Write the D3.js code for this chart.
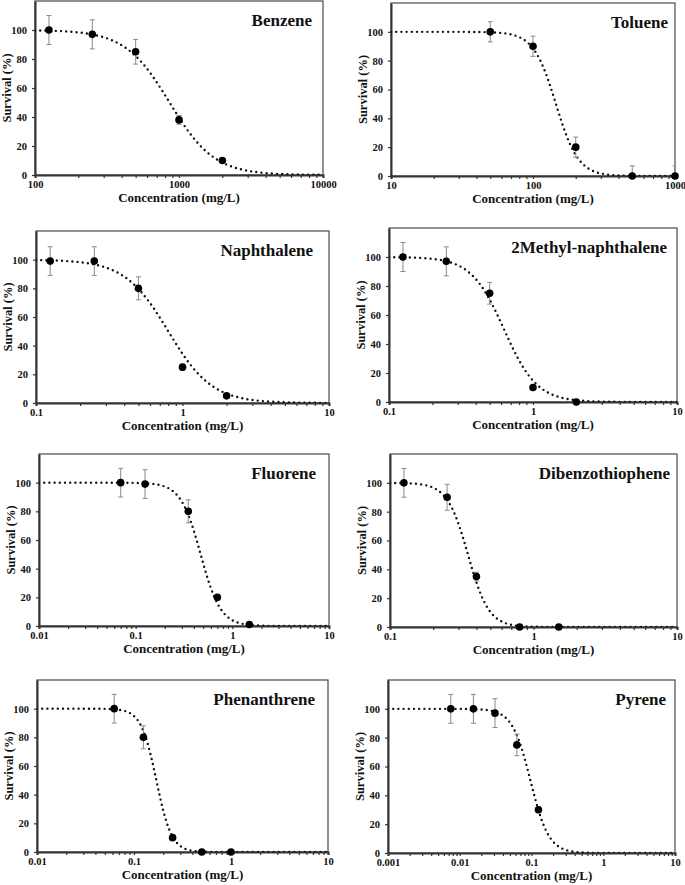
<!DOCTYPE html>
<html>
<head>
<meta charset="utf-8">
<script src="https://cdn.jsdelivr.net/npm/d3@7/dist/d3.min.js"></script>
<style>
  html, body { margin: 0; padding: 0; background: #fff; }
  svg { display: block; }
  text { font-family: "Liberation Serif", "Times New Roman", serif; font-weight: bold; fill: #111; }
</style>
</head>
<body>
<svg id="chart" width="685" height="885"></svg>
<script>
// ---------- data ----------
const compounds = ["Benzene", "Toluene", "Naphthalene", "2Methyl-naphthalene",
                   "Fluorene", "Dibenzothiophene", "Phenanthrene", "Pyrene"];
const xDomains = [[100, 10000], [10, 1000], [0.1, 10], [0.1, 10],
                  [0.01, 10], [0.1, 10], [0.01, 10], [0.001, 10]];
const concentrations = [
  [125, 250, 500, 1000, 2000],
  [50, 100, 200, 500, 1000],
  [0.125, 0.25, 0.5, 1, 2],
  [0.125, 0.25, 0.5, 1, 2],
  [0.07, 0.125, 0.35, 0.7, 1.5],
  [0.125, 0.25, 0.4, 0.8, 1.5],
  [0.0625, 0.125, 0.25, 0.5, 1],
  [0.0075, 0.0155, 0.031, 0.0625, 0.125]
];
const survival = [
  [100, 97, 85, 38, 10],
  [100, 90, 20, 0, 0],
  [99, 99, 80, 25, 5],
  [100, 97, 75, 10, 0],
  [100, 99, 80, 20, 1],
  [100, 90, 35, 0, 0],
  [100, 80, 10, 0, 0],
  [100, 100, 97, 75, 30]
];
const errors = [
  [10, 10, 8.5, 3, 1],
  [7, 7, 7, 7, 7],
  [10, 10, 8, 2, 1],
  [10, 10, 7.5, 1, 0.5],
  [10, 10, 8, 2, 1],
  [10, 9, 3, 0, 0],
  [10, 8, 1, 0, 0],
  [10, 10, 10, 7.5, 2]
];
// fitted dose-response curve parameters (EC50, Hill slope)
const ec50 = [860, 145, 0.8, 0.63, 0.47, 0.35, 0.17, 0.097];
const hillSlope = [2.8, 5.5, 2.9, 3.8, 4.2, 6.0, 5.5, 3.4];
const yTicks = [0, 20, 40, 60, 80, 100];
const yDomain = [0, 120];

// ---------- layout ----------
const layout = [
  {box: [35, 1, 323, 175],   titleGap: 11},
  {box: [391, 3, 675, 176],  titleGap: 7},
  {box: [36, 231, 329, 403], titleGap: 16},
  {box: [389, 228, 677, 402], titleGap: 10},
  {box: [39, 454, 329, 626], titleGap: 13},
  {box: [390, 454, 677, 627], titleGap: 7},
  {box: [37, 680, 328, 852], titleGap: 13},
  {box: [388, 680, 675, 853], titleGap: 9}
];

const FONT = "'Liberation Serif', 'Times New Roman', serif";
const svg = d3.select("#chart");
const defs = svg.append("defs");

compounds.forEach((name, i) => {
  const [x0, y0, x1, y1] = layout[i].box;
  const w = x1 - x0, h = y1 - y0;
  const g = svg.append("g").attr("transform", `translate(${x0},${y0})`);

  const x = d3.scaleLog().domain(xDomains[i]).range([0, w]);
  const y = d3.scaleLinear().domain(yDomain).range([h, 0]);

  defs.append("clipPath").attr("id", "clip" + i)
    .append("rect").attr("x", 0).attr("y", 0).attr("width", w).attr("height", h);

  // frame
  g.append("rect").attr("x", 0).attr("y", 0).attr("width", w).attr("height", h)
    .attr("fill", "none").attr("stroke", "#4a4a4a").attr("stroke-width", 1.2);

  // x axis (log) with minor ticks
  const [lo, hi] = xDomains[i];
  const tickVals = [];
  for (let e = Math.round(Math.log10(lo)); e < Math.round(Math.log10(hi)); e++) {
    for (let m = 1; m <= 9; m++) tickVals.push(m * Math.pow(10, e));
  }
  tickVals.push(hi);
  const isMajor = v => Math.abs(Math.log10(v) - Math.round(Math.log10(v))) < 1e-9;
  const xAxis = d3.axisBottom(x).tickValues(tickVals).tickSizeOuter(0).tickSize(3)
    .tickFormat(v => isMajor(v) ? d3.format("~r")(+v.toPrecision(6)) : "");
  const xg = g.append("g").attr("transform", `translate(0,${h})`).call(xAxis)
    .attr("font-family", FONT).attr("font-size", 10.5).attr("font-weight", "bold");
  xg.select(".domain").attr("stroke", "#333").attr("stroke-width", 2);
  xg.selectAll(".tick line").attr("stroke", "#333").attr("stroke-width", 1.2);
  xg.selectAll(".tick text").attr("dy", "0.9em").attr("y", 4).attr("fill", "#111");

  // y axis
  const yAxis = d3.axisLeft(y).tickValues(yTicks).tickSize(3).tickSizeOuter(0).tickPadding(5);
  const yg = g.append("g").call(yAxis)
    .attr("font-family", FONT).attr("font-size", 10.5).attr("font-weight", "bold");
  yg.select(".domain").attr("stroke", "#333").attr("stroke-width", 2);
  yg.selectAll(".tick line").attr("stroke", "#333").attr("stroke-width", 1.2);
  yg.selectAll(".tick text").attr("fill", "#111");

  // axis titles
  g.append("text").attr("x", w / 2).attr("y", h + 27).attr("text-anchor", "middle")
    .attr("font-size", 13).text("Concentration (mg/L)");
  g.append("text").attr("transform", `translate(-24.5,${h / 2}) rotate(-90)`)
    .attr("text-anchor", "middle").attr("font-size", 12.5).text("Survival (%)");

  // panel title
  g.append("text").attr("x", w - layout[i].titleGap).attr("y", 25).attr("text-anchor", "end")
    .attr("font-size", 17).text(name);

  const plot = g.append("g").attr("clip-path", `url(#clip${i})`);

  // fitted curve (dotted)
  const lx0 = Math.log10(lo), lx1 = Math.log10(hi);
  const curve = d3.range(0, 301).map(k => {
    const c = Math.pow(10, lx0 + (lx1 - lx0) * k / 300);
    return [c, 100 / (1 + Math.pow(c / ec50[i], hillSlope[i]))];
  });
  plot.append("path").datum(curve)
    .attr("d", d3.line().x(d => x(d[0])).y(d => y(d[1])))
    .attr("fill", "none").attr("stroke", "#111").attr("stroke-width", 2.4)
    .attr("stroke-linecap", "round").attr("stroke-dasharray", "0,5.2");

  const pts = concentrations[i].map((c, k) => ({c, s: survival[i][k], e: errors[i][k]}));

  // error bars
  const eb = plot.selectAll(".eb").data(pts.filter(d => d.e > 0)).join("g").attr("class", "eb")
    .attr("stroke", "#8a8a8a").attr("stroke-width", 1);
  eb.append("line").attr("x1", d => x(d.c)).attr("x2", d => x(d.c))
    .attr("y1", d => y(d.s + d.e)).attr("y2", d => y(d.s - d.e));
  eb.append("line").attr("x1", d => x(d.c) - 2.5).attr("x2", d => x(d.c) + 2.5)
    .attr("y1", d => y(d.s + d.e)).attr("y2", d => y(d.s + d.e));
  eb.append("line").attr("x1", d => x(d.c) - 2.5).attr("x2", d => x(d.c) + 2.5)
    .attr("y1", d => y(d.s - d.e)).attr("y2", d => y(d.s - d.e));

  // markers
  g.selectAll(".pt").data(pts).join("circle").attr("class", "pt")
    .attr("cx", d => x(d.c)).attr("cy", d => y(d.s)).attr("r", 3.8).attr("fill", "#000");
});
</script>
</body>
</html>
